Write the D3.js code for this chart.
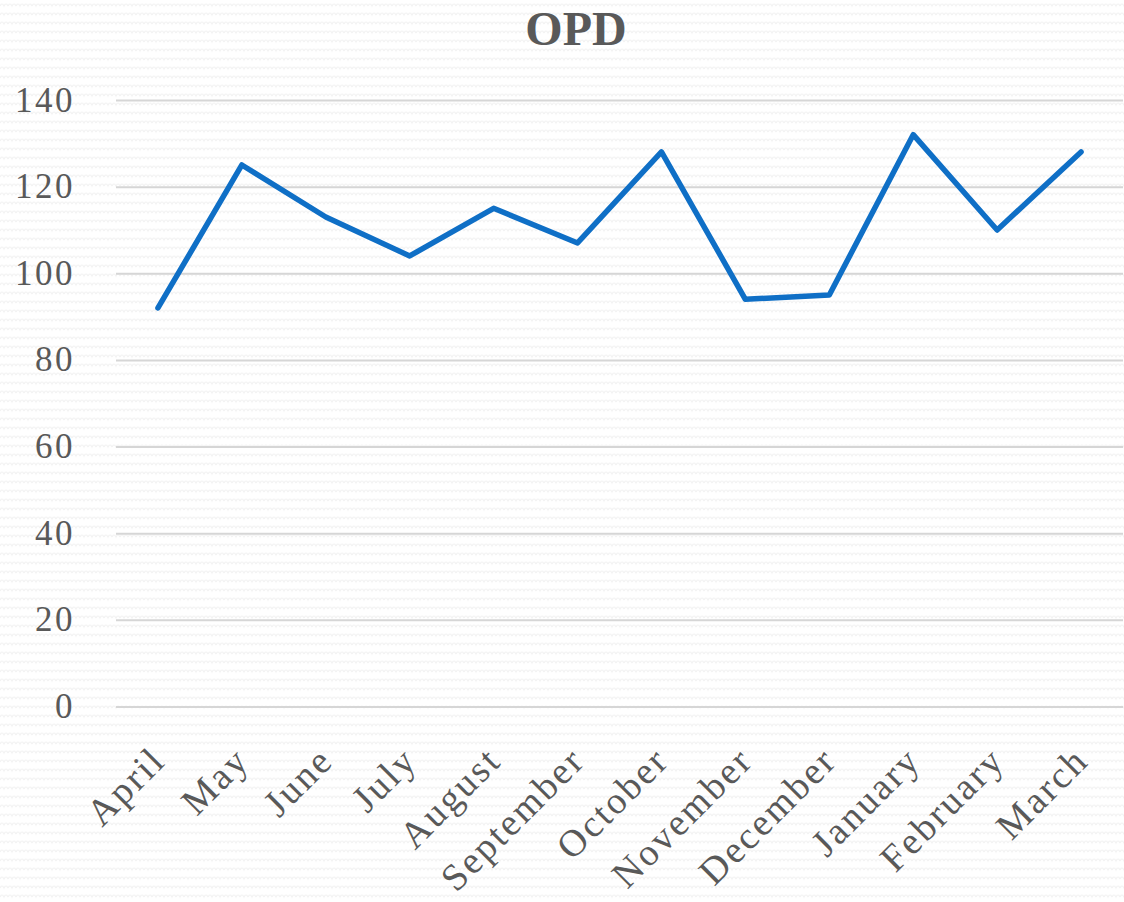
<!DOCTYPE html>
<html>
<head>
<meta charset="utf-8">
<script src="https://cdn.jsdelivr.net/npm/d3@7"></script>
<style>
  body { margin: 0; background: #fff; }
  text { font-family: "Liberation Serif", "DejaVu Serif", serif; fill: #595959; }
</style>
</head>
<body>
<div id="chart"></div>
<script>
// OPD per month
var months = ["April", "May", "June", "July", "August", "September", "October",
              "November", "December", "January", "February", "March"];
var opd = [92, 125, 113, 104, 115, 107, 128, 94, 95, 132, 110, 128];
var yTicks = [0, 20, 40, 60, 80, 100, 120, 140];
var chartTitle = "OPD";

var W = 1124, H = 902;
var m = { top: 100, right: 1, bottom: 195.5, left: 116 };

var svg = d3.select("#chart").append("svg")
  .attr("width", W)
  .attr("height", H);

// faint zigzag paper texture
var defs = svg.append("defs");
var pat = defs.append("pattern")
  .attr("id", "zig")
  .attr("patternUnits", "userSpaceOnUse")
  .attr("width", 8)
  .attr("height", 9);
pat.append("rect").attr("width", 8).attr("height", 9).attr("fill", "#fff");
pat.append("path")
  .attr("d", "M0,6 Q2,2 4,6 Q6,2 8,6")
  .attr("fill", "none")
  .attr("stroke", "#f3f3f3")
  .attr("stroke-width", 1.2);

svg.append("rect").attr("width", W).attr("height", H).attr("fill", "url(#zig)");

var g = svg.append("g")
  .attr("transform", "translate(" + m.left + "," + m.top + ")");

var iw = W - m.left - m.right, ih = H - m.top - m.bottom;

var x = d3.scalePoint().domain(months).range([0, iw]).padding(0.5);
var y = d3.scaleLinear().domain([0, 140]).range([ih, 0]);

// gridlines + y labels
var yAxis = g.append("g")
  .call(d3.axisLeft(y).tickValues(yTicks).tickSize(-iw).tickPadding(0));
yAxis.select(".domain").remove();
yAxis.selectAll(".tick line")
  .attr("stroke", "#d6d6d6")
  .attr("stroke-width", 2);
yAxis.selectAll(".tick text")
  .attr("x", -41)
  .attr("dy", 11)
  .attr("font-size", 35)
  .attr("letter-spacing", 2.5)
  .style("fill", "#595959")
  .style("font-family", "'Liberation Serif', serif");

// x labels, rotated
var xAxis = g.append("g")
  .attr("transform", "translate(0," + ih + ")")
  .call(d3.axisBottom(x).tickSize(0));
xAxis.select(".domain").remove();
xAxis.selectAll(".tick text")
  .attr("text-anchor", "end")
  .attr("font-size", 38)
  .attr("letter-spacing", 2.5)
  .attr("transform", "translate(9,56) rotate(-45)")
  .attr("x", 0)
  .attr("y", 0)
  .attr("dy", 0)
  .style("fill", "#595959")
  .style("font-family", "'Liberation Serif', serif");

// line
var line = d3.line()
  .x(function(d, i) { return x(months[i]); })
  .y(function(d) { return y(d); });

g.append("path")
  .datum(opd)
  .attr("d", line)
  .attr("fill", "none")
  .attr("stroke", "#0f6fc6")
  .attr("stroke-width", 5.5)
  .attr("stroke-linejoin", "round")
  .attr("stroke-linecap", "round");

// title
svg.append("text")
  .attr("x", 576)
  .attr("y", 45)
  .attr("text-anchor", "middle")
  .attr("font-size", 48)
  .attr("font-weight", "bold")
  .text(chartTitle);
</script>
</body>
</html>
